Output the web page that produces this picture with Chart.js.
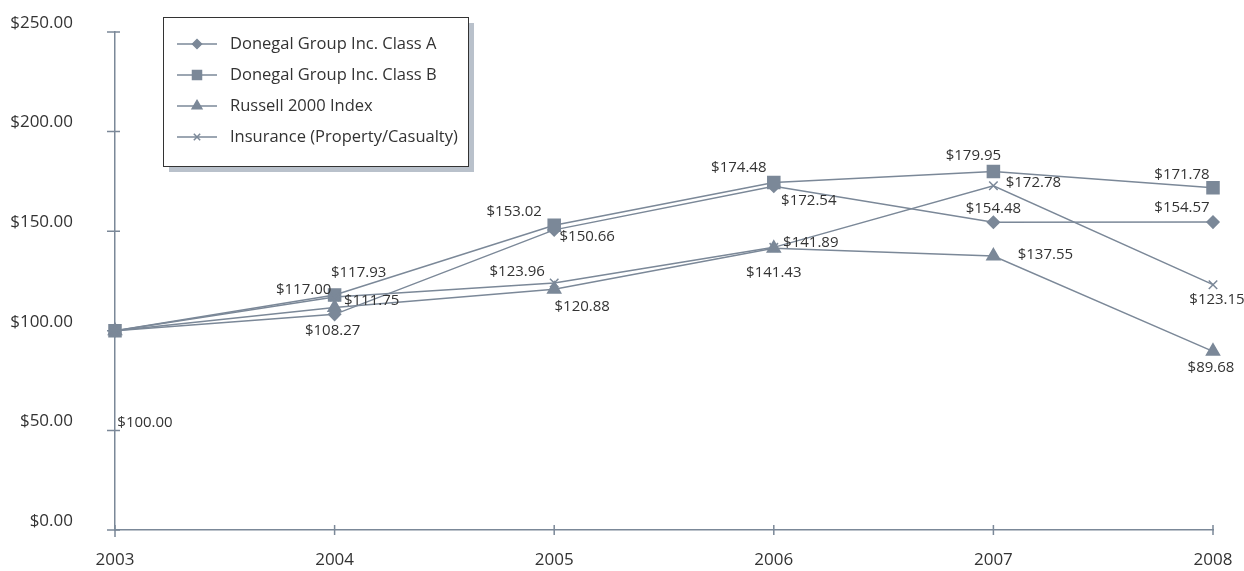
<!DOCTYPE html>
<html>
<head>
<meta charset="utf-8">
<script src="https://cdn.jsdelivr.net/npm/chart.js@4/dist/chart.umd.min.js"></script>
<style>
  html, body { margin: 0; padding: 0; background: #fff; }
  #wrap { width: 1244px; height: 571px; position: relative; }
</style>
</head>
<body>
<div id="wrap"><canvas id="chart"></canvas></div>
<script>
const years = ["2003", "2004", "2005", "2006", "2007", "2008"];
const classA = [100.0, 108.27, 150.66, 172.54, 154.48, 154.57];
const classB = [100.0, 117.93, 153.02, 174.48, 179.95, 171.78];
const russell = [100.0, 111.75, 120.88, 141.43, 137.55, 89.68];
const insurance = [100.0, 117.0, 123.96, 141.89, 172.78, 123.15];
const yTicks = [0, 50, 100, 150, 200, 250];

// label placement (offset from point, px); null = no label
const labelOffsets = [
  [[30, 92], [-2, 16], [33, 7], [35, 14], [0, -14], [-31, -14]],
  [null, [24, -22], [-40, -13], [-35, -15], [-20, -16], [-31, -13]],
  [null, [37, -7], [28, 18], [0, 24], [52, -1], [-2, 16]],
  [null, [-31, -7], [-37, -11], [37, -5], [40, -3], [4, 15]],
];

const lineColor = "#7b8898";
const textColor = "#333333";
const font = "'Open Sans', 'DejaVu Sans', sans-serif";

const money = (v) => "$" + v.toFixed(2);

// ticks crossing both axes
const crossTicks = {
  id: "crossTicks",
  afterDraw(chart) {
    const { ctx, scales: { x, y } } = chart;
    ctx.save();
    ctx.strokeStyle = lineColor;
    ctx.lineWidth = 1.5;
    ctx.beginPath();
    yTicks.forEach((t) => {
      const py = y.getPixelForValue(t);
      ctx.moveTo(x.left - 8, py);
      ctx.lineTo(x.left + 5, py);
    });
    years.forEach((_, i) => {
      const px = x.getPixelForValue(i);
      ctx.moveTo(px, y.bottom - 5);
      ctx.lineTo(px, y.bottom + 5);
    });
    ctx.moveTo(x.left, y.bottom);
    ctx.lineTo(x.left, y.bottom + 7);
    ctx.stroke();
    ctx.restore();
  },
};

const pointLabels = {
  id: "pointLabels",
  afterDatasetsDraw(chart) {
    const { ctx } = chart;
    ctx.save();
    ctx.font = "15px " + font;
    ctx.fillStyle = textColor;
    ctx.textAlign = "center";
    ctx.textBaseline = "middle";
    chart.data.datasets.forEach((ds, di) => {
      const meta = chart.getDatasetMeta(di);
      meta.data.forEach((pt, i) => {
        const off = labelOffsets[di][i];
        if (!off) return;
        ctx.fillText(money(ds.data[i]), pt.x + off[0], pt.y + off[1]);
      });
    });
    ctx.restore();
  },
};

const boxLegend = {
  id: "boxLegend",
  afterDraw(chart) {
    const { ctx } = chart;
    const bx = 163, by = 17, bw = 305, bh = 149;
    ctx.save();
    ctx.fillStyle = "#b9c1cb";
    ctx.fillRect(bx + 6, by + 6, bw, bh);
    ctx.fillStyle = "#fff";
    ctx.fillRect(bx, by, bw, bh);
    ctx.strokeStyle = "#333";
    ctx.lineWidth = 1;
    ctx.strokeRect(bx + 0.5, by + 0.5, bw, bh);
    ctx.font = "16.5px " + font;
    ctx.textBaseline = "middle";
    chart.data.datasets.forEach((ds, i) => {
      const cy = by + 27 + i * 31;
      ctx.strokeStyle = lineColor;
      ctx.fillStyle = lineColor;
      ctx.lineWidth = 1.5;
      ctx.beginPath();
      ctx.moveTo(177, cy);
      ctx.lineTo(217, cy);
      ctx.stroke();
      Chart.helpers.drawPoint(ctx, {
        pointStyle: ds.pointStyle,
        radius: ds.pointRadius * 0.75,
        borderWidth: 1.5,
        rotation: 0,
      }, 197, cy);
      ctx.fillStyle = textColor;
      ctx.fillText(ds.label, 230, cy);
    });
    ctx.restore();
  },
};

const mk = (label, data, style, r, order) => ({
  label,
  data,
  order,
  pointStyle: style,
  pointRadius: r,
  borderColor: lineColor,
  backgroundColor: lineColor,
  pointBackgroundColor: lineColor,
  pointBorderColor: lineColor,
  borderWidth: 1.5,
  pointBorderWidth: 1.5,
  tension: 0,
});

new Chart(document.getElementById("chart"), {
  type: "line",
  data: {
    labels: years,
    datasets: [
      mk("Donegal Group Inc. Class A", classA, "rectRot", 6, 3),
      mk("Donegal Group Inc. Class B", classB, "rect", 8.5, 2),
      mk("Russell 2000 Index", russell, "triangle", 7.5, 1),
      mk("Insurance (Property/Casualty)", insurance, "crossRot", 6, 0),
    ],
  },
  options: {
    responsive: true,
    maintainAspectRatio: false,
    animation: false,
    layout: { padding: { top: 32, right: 31, left: 0, bottom: 0 } },
    plugins: { legend: { display: false }, tooltip: { enabled: false } },
    scales: {
      x: {
        offset: false,
        grid: { display: false },
        border: { display: true, color: lineColor, width: 1.5 },
        ticks: {
          color: textColor,
          font: { family: font, size: 17 },
          padding: 12,
          maxRotation: 0,
        },
        afterFit(s) {
          s.height = 41;
          s.paddingLeft = 0;
          s.paddingRight = 0;
        },
      },
      y: {
        min: 0,
        max: 250,
        grid: { display: false },
        border: { display: true, color: lineColor, width: 1.5 },
        afterBuildTicks(s) { s.ticks = yTicks.map((v) => ({ value: v })); },
        ticks: {
          color: textColor,
          font: { family: font, size: 17 },
          padding: 34,
          labelOffset: -9,
          callback: (v) => money(v),
        },
        afterFit(s) {
          s.width = 115;
          s.paddingTop = 0;
          s.paddingBottom = 0;
        },
      },
    },
  },
  plugins: [crossTicks, pointLabels, boxLegend],
});
</script>
</body>
</html>
